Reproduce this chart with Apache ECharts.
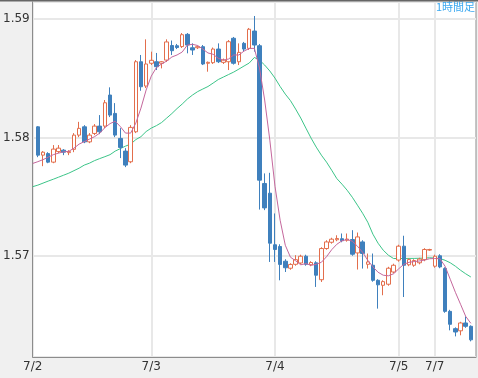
<!DOCTYPE html>
<html>
<head>
<meta charset="utf-8">
<script src="https://cdn.jsdelivr.net/npm/echarts@6/dist/echarts.min.js"></script>
<style>
  html, body { margin: 0; padding: 0; background: #f0f0f0; }
  #main { width: 478px; height: 378px; }
</style>
</head>
<body>
<div id="main"></div>
<script>
// 日付ラベル（カテゴリ位置）
var dayLabels = ['7/2', '7/3', '7/4', '7/5', '7/7'];
var dayStartIndex = [0, 23, 47, 71, 78];
var slotCount = 87; // 両端に空きを1本ずつ

// 1時間足 [始値, 終値, 安値, 高値]
var candles = [
  [1.58092, 1.57853, 1.57836, 1.58098], [1.57853, 1.57878, 1.57760, 1.57887],
  [1.57866, 1.57794, 1.57785, 1.57878], [1.57794, 1.57904, 1.57785, 1.57938],
  [1.57883, 1.57912, 1.57870, 1.57938], [1.57895, 1.57878, 1.57853, 1.57904],
  [1.57874, 1.57883, 1.57853, 1.57895], [1.57902, 1.58022, 1.57878, 1.58039],
  [1.58022, 1.58079, 1.58005, 1.58134], [1.58092, 1.57965, 1.57954, 1.58106],
  [1.57965, 1.58022, 1.57954, 1.58039], [1.58036, 1.58098, 1.58022, 1.58115],
  [1.58098, 1.58050, 1.58030, 1.58191], [1.58098, 1.58295, 1.58081, 1.58318],
  [1.58360, 1.58191, 1.58174, 1.58425], [1.58205, 1.58022, 1.58005, 1.58292],
  [1.57994, 1.57918, 1.57828, 1.58081], [1.57887, 1.57769, 1.57752, 1.57912],
  [1.57797, 1.58087, 1.57785, 1.58106], [1.58050, 1.58641, 1.58039, 1.58655],
  [1.58641, 1.58430, 1.58396, 1.58698], [1.58436, 1.58622, 1.58419, 1.58830],
  [1.58628, 1.58653, 1.58613, 1.58726], [1.58641, 1.58599, 1.58571, 1.58715],
  [1.58628, 1.58641, 1.58585, 1.58647], [1.58655, 1.58808, 1.58639, 1.58830],
  [1.58778, 1.58734, 1.58698, 1.58820], [1.58776, 1.58761, 1.58748, 1.58791],
  [1.58769, 1.58869, 1.58757, 1.58883], [1.58872, 1.58782, 1.58712, 1.58883],
  [1.58759, 1.58740, 1.58698, 1.58796], [1.58759, 1.58768, 1.58748, 1.58778],
  [1.58768, 1.58622, 1.58613, 1.58782], [1.58628, 1.58636, 1.58557, 1.58643],
  [1.58633, 1.58748, 1.58622, 1.58761], [1.58748, 1.58641, 1.58630, 1.58796],
  [1.58636, 1.58655, 1.58622, 1.58668], [1.58641, 1.58810, 1.58571, 1.58824],
  [1.58839, 1.58628, 1.58617, 1.58850], [1.58641, 1.58720, 1.58613, 1.58796],
  [1.58796, 1.58748, 1.58731, 1.58808], [1.58754, 1.58915, 1.58740, 1.58926],
  [1.58900, 1.58782, 1.58726, 1.59027], [1.58776, 1.57642, 1.57394, 1.58791],
  [1.57614, 1.57408, 1.57389, 1.57699], [1.57532, 1.57110, 1.56952, 1.57704],
  [1.57097, 1.57057, 1.56952, 1.57361], [1.57082, 1.56931, 1.56797, 1.57101],
  [1.56958, 1.56903, 1.56867, 1.56975], [1.56899, 1.56931, 1.56886, 1.56941],
  [1.56932, 1.56971, 1.56920, 1.57009], [1.56943, 1.57000, 1.56932, 1.57013],
  [1.57000, 1.56932, 1.56920, 1.57013], [1.56928, 1.56947, 1.56916, 1.56958],
  [1.56945, 1.56840, 1.56741, 1.56958], [1.56802, 1.57065, 1.56783, 1.57076],
  [1.57065, 1.57121, 1.57055, 1.57135], [1.57118, 1.57144, 1.57106, 1.57156],
  [1.57139, 1.57150, 1.57127, 1.57177], [1.57148, 1.57131, 1.57118, 1.57192],
  [1.57135, 1.57145, 1.57123, 1.57192], [1.57141, 1.57017, 1.57004, 1.57220],
  [1.57028, 1.57163, 1.56888, 1.57200], [1.57121, 1.57023, 1.56896, 1.57135],
  [1.56932, 1.56952, 1.56896, 1.57023], [1.56924, 1.56797, 1.56785, 1.57023],
  [1.56797, 1.56759, 1.56558, 1.56806], [1.56755, 1.56786, 1.56671, 1.56797],
  [1.56764, 1.56899, 1.56751, 1.56911], [1.56867, 1.56924, 1.56856, 1.56937],
  [1.56968, 1.57085, 1.56954, 1.57097], [1.57085, 1.56924, 1.56656, 1.57173],
  [1.56928, 1.56972, 1.56916, 1.56983], [1.56924, 1.56964, 1.56911, 1.56975],
  [1.56945, 1.56976, 1.56932, 1.56987], [1.56971, 1.57057, 1.56958, 1.57068],
  [1.57052, 1.57057, 1.57046, 1.57063], [1.56916, 1.57000, 1.56903, 1.57013],
  [1.57004, 1.56910, 1.56899, 1.57017], [1.56896, 1.56535, 1.56523, 1.56907],
  [1.56535, 1.56426, 1.56375, 1.56548], [1.56389, 1.56361, 1.56324, 1.56400],
  [1.56371, 1.56437, 1.56333, 1.56447], [1.56437, 1.56409, 1.56396, 1.56493],
  [1.56409, 1.56295, 1.56282, 1.56417]
];

// 短期移動平均（ピンク）
var maShort = [
  1.57783, 1.57798, 1.57815, 1.57836, 1.57857, 1.57870, 1.57881, 1.57885, 1.57912, 1.57946,
  1.57967, 1.57988, 1.58009, 1.58039, 1.58085, 1.58119, 1.58139, 1.58094, 1.58039, 1.58039,
  1.58123, 1.58250, 1.58402, 1.58520, 1.58592, 1.58622, 1.58647, 1.58681, 1.58698, 1.58723,
  1.58782, 1.58788, 1.58778, 1.58748, 1.58715, 1.58704, 1.58670, 1.58655, 1.58664, 1.58698,
  1.58698, 1.58731, 1.58753, 1.58754, 1.58588, 1.58318, 1.57980, 1.57591, 1.57304, 1.57093,
  1.56992, 1.56962, 1.56928, 1.56938, 1.56924, 1.56932, 1.56949, 1.56996, 1.57055, 1.57101,
  1.57131, 1.57141, 1.57127, 1.57085, 1.57034, 1.56966, 1.56911, 1.56865, 1.56840, 1.56835,
  1.56852, 1.56894, 1.56932, 1.56949, 1.56955, 1.56960, 1.56968, 1.56979, 1.56981, 1.56979,
  1.56916, 1.56806, 1.56696, 1.56595, 1.56493, 1.56434
];

// 長期移動平均（グリーン）
var maLong = [
  1.57587, 1.57600, 1.57617, 1.57634, 1.57650, 1.57667, 1.57684, 1.57701, 1.57722, 1.57743,
  1.57769, 1.57785, 1.57807, 1.57824, 1.57840, 1.57857, 1.57887, 1.57908, 1.57929, 1.57946,
  1.57984, 1.58009, 1.58052, 1.58081, 1.58102, 1.58128, 1.58166, 1.58204, 1.58246, 1.58284,
  1.58326, 1.58360, 1.58389, 1.58411, 1.58432, 1.58461, 1.58491, 1.58512, 1.58533, 1.58554,
  1.58579, 1.58605, 1.58630, 1.58677, 1.58655, 1.58613, 1.58563, 1.58503, 1.58432, 1.58368,
  1.58313, 1.58242, 1.58166, 1.58081, 1.57997, 1.57921, 1.57853, 1.57794, 1.57726, 1.57655,
  1.57608, 1.57557, 1.57498, 1.57431, 1.57363, 1.57287, 1.57186, 1.57110, 1.57051, 1.57009,
  1.56981, 1.56981, 1.56981, 1.56982, 1.56982, 1.56983, 1.56985, 1.56987, 1.56985, 1.56981,
  1.56966, 1.56945, 1.56916, 1.56882, 1.56852, 1.56825
];

var categories = [];
for (var i = 0; i < slotCount; i++) {
  var k = dayStartIndex.indexOf(i);
  categories.push(k >= 0 ? dayLabels[k] : 'h' + i);
}
var isDayStart = function (index) {
  return dayStartIndex.indexOf(index) >= 0;
};
var candleData = candles.map(function (c, i) {
  return [i + 1, c[0], c[1], c[2], c[3]];
});

var chart = echarts.init(document.getElementById('main'), null, { renderer: 'canvas' });

var option = {
  animation: false,
  backgroundColor: '#f0f0f0',
  title: {
    text: '1時間足',
    right: 3,
    top: 1,
    padding: 0,
    textStyle: {
      color: '#3aa8f0',
      fontSize: 11,
      fontWeight: 'normal',
      fontFamily: 'Noto Sans CJK JP'
    }
  },
  grid: {
    left: 32,
    right: 2,
    top: 2,
    bottom: 21,
    show: true,
    backgroundColor: '#ffffff',
    borderColor: '#8c8c8c',
    borderWidth: 1
  },
  xAxis: {
    type: 'category',
    data: categories,
    boundaryGap: false,
    axisLine: { lineStyle: { color: '#8c8c8c', width: 1 } },
    axisTick: { show: false },
    axisLabel: {
      interval: isDayStart,
      formatter: function (v) { return v.charAt(0) === 'h' ? '' : v; },
      color: '#333',
      fontSize: 12,
      fontFamily: 'DejaVu Sans',
      margin: 4
    },
    splitLine: {
      show: true,
      interval: isDayStart,
      lineStyle: { color: '#e8e8e8', width: 2 }
    }
  },
  yAxis: {
    type: 'value',
    min: 1.5615,
    max: 1.59145,
    splitNumber: 3,
    axisLine: { show: true, lineStyle: { color: '#8c8c8c', width: 1 } },
    axisTick: { show: false },
    axisLabel: {
      showMinLabel: false,
      showMaxLabel: false,
      color: '#333',
      fontSize: 12,
      fontFamily: 'DejaVu Sans',
      margin: 3
    },
    splitLine: { lineStyle: { color: '#e8e8e8', width: 2 } }
  },
  graphic: [{
    type: 'line',
    shape: { x1: 0, y1: 0.5, x2: 478, y2: 0.5 },
    style: { stroke: '#666', lineWidth: 2 },
    z: 100
  }],
  series: [
    {
      name: '長期',
      type: 'line',
      data: maLong,
      showSymbol: false,
      lineStyle: { color: '#3cc488', width: 1 },
      z: 2
    },
    {
      name: '1時間足',
      type: 'candlestick',
      data: candleData,
      encode: { x: 0, y: [1, 2, 3, 4] },
      barWidth: 4,
      itemStyle: {
        color: '#ffffff',
        color0: '#3f80bd',
        borderColor: '#e36e4c',
        borderColor0: '#3f80bd',
        borderWidth: 1
      },
      z: 3
    },
    {
      name: '短期',
      type: 'line',
      data: maShort,
      showSymbol: false,
      lineStyle: { color: '#c4679c', width: 1 },
      z: 4
    }
  ]
};

chart.setOption(option);
</script>
</body>
</html>
